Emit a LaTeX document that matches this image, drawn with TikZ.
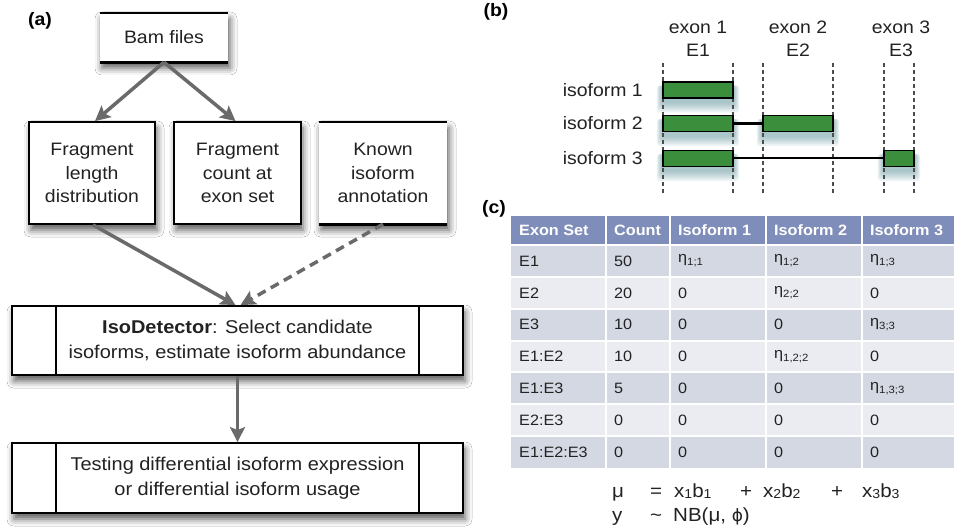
\documentclass[tikz,border=0pt]{standalone}
\usepackage{fontspec}
\setmainfont[FakeStretch=1.08]{Liberation Sans}
\newfontfamily\djv[FakeStretch=1.0]{DejaVu Sans}
\usetikzlibrary{arrows.meta,shadows.blur,backgrounds,calc}
\definecolor{arrowgray}{HTML}{6A6A6A}
\definecolor{bargreen}{HTML}{3B8E3B}
\definecolor{hdr}{HTML}{7F8DBA}
\definecolor{rowdark}{HTML}{D4D8E2}
\definecolor{rowlight}{HTML}{EAECF1}
\definecolor{glowc}{HTML}{3F8088}
\definecolor{txt}{HTML}{222222}
\newcommand{\et}[1]{η\raisebox{-3pt}{\fontsize{10.5}{10}\selectfont #1}}
\newcommand{\sbx}[1]{\raisebox{-1pt}{\fontsize{13}{13}\selectfont #1}}
\newcommand{\barglow}[1]{%
  \foreach \s in {1,...,6}{%
    \fill[glowc,opacity=0.09,rounded corners=3pt] ($(#1.north west)+(-0.9*\s,4)$) rectangle ($(#1.south east)+(0.9*\s,3+1.8*\s)$);}}
\begin{document}
\begin{tikzpicture}[x=1pt,y=-1pt,
  shad/.style={blur shadow={shadow xshift=2pt,shadow yshift=-6pt,shadow blur radius=7pt,shadow opacity=65}},
  box/.style={draw=black,line width=1.8pt,fill=white,inner sep=0pt,align=center,
    font=\fontsize{18}{23.5}\selectfont,text=txt,shad},
  databox/.style={fill=white,inner sep=0pt,align=center,
    font=\fontsize{18}{23.5}\selectfont,text=txt,shad},
  flow/.style={draw=arrowgray,line width=3.5pt,-{Stealth[length=15pt,width=15pt,inset=3pt]}},
  guide/.style={draw=black!70,line width=1.4pt,dash pattern=on 4pt off 3pt},
  isobar/.style={draw=black,line width=1.4pt,fill=bargreen,inner sep=0pt,minimum height=16pt},
  lbl/.style={font=\fontsize{18}{20}\selectfont,text=txt,inner sep=0pt},
  plabel/.style={font=\bfseries\fontsize{18}{20}\selectfont,inner sep=0pt},
  hcell/.style={font=\bfseries\fontsize{15}{17}\selectfont,text=white,anchor=west,inner sep=0pt},
  cell/.style={font=\fontsize{15}{17}\selectfont,text=txt,anchor=west,inner sep=0pt},
  fml/.style={font=\fontsize{19}{20}\selectfont,text=txt,anchor=base west,inner sep=0pt}]
\useasboundingbox (0,0) rectangle (954,529);

% ---------- panel (a)
\node[plabel] (pa) at (40,21) {(a)};
\node[databox,minimum width=128pt,minimum height=49pt] (bam) at (164,37.5) {Bam files};
\draw[line width=1.8pt] (bam.north west) -- (bam.north east);
\draw[line width=2.8pt] (bam.south west) -- (bam.south east);

\node[box,minimum width=126pt,minimum height=102pt] (fld) at (92,173) {Fragment\\length\\distribution};
\node[box,minimum width=127pt,minimum height=102pt] (fce) at (237.5,173) {Fragment\\count at\\exon set};
\node[databox,minimum width=128pt,minimum height=102pt] (kia) at (383,173) {Known\\isoform\\annotation};
\draw[line width=1.8pt] (kia.north west) -- (kia.north east);
\draw[line width=2.8pt] (kia.south west) -- (kia.south east);

\node[box,minimum width=451pt,minimum height=69pt,font=\fontsize{18.5}{25}\selectfont] (iso) at (237.5,340.5)
  {\textbf{IsoDetector}: Select candidate\\isoforms, estimate isoform abundance};
\draw[line width=1.8pt] ([xshift=45pt]iso.north west) -- ([xshift=45pt]iso.south west);
\draw[line width=1.8pt] ([xshift=-45pt]iso.north east) -- ([xshift=-45pt]iso.south east);

\node[box,minimum width=451pt,minimum height=70pt,font=\fontsize{18.5}{25}\selectfont] (test) at (237.5,478)
  {Testing differential isoform expression\\or differential isoform usage};
\draw[line width=1.8pt] ([xshift=45pt]test.north west) -- ([xshift=45pt]test.south west);
\draw[line width=1.8pt] ([xshift=-45pt]test.north east) -- ([xshift=-45pt]test.south east);

\draw[flow] (bam.south) -- ([xshift=3pt]fld.north);
\draw[flow] (bam.south) -- ([xshift=-2pt]fce.north);
\draw[flow] ([xshift=1pt]fld.south) -- ([xshift=-2pt]iso.north);
\draw[flow,dash pattern=on 9pt off 6pt] (kia.south) -- ([xshift=3pt]iso.north);
\draw[flow] (iso.south) -- (test.north);

% ---------- panel (b)
\node[plabel] (pb) at (496,12) {(b)};
\node[lbl] (ex1) at (698,27) {exon 1};
\node[lbl] (e1) at (698,50) {E1};
\node[lbl] (ex2) at (798,27) {exon 2};
\node[lbl] (e2) at (798,50) {E2};
\node[lbl] (ex3) at (901,27) {exon 3};
\node[lbl] (e3) at (901,50) {E3};

\foreach \x in {663,733,763,833,884,914} \draw[guide] (\x,63) -- (\x,193);

\node[lbl,anchor=east] (i1) at (643,90) {isoform 1};
\node[lbl,anchor=east] (i2) at (643,123.5) {isoform 2};
\node[lbl,anchor=east] (i3) at (643,158.5) {isoform 3};

\node[isobar,minimum width=70pt] (b11) at (698,90) {};
\node[isobar,minimum width=70pt] (b21) at (698,123.5) {};
\node[isobar,minimum width=70pt] (b22) at (798,123.5) {};
\node[isobar,minimum width=70pt] (b31) at (698,158.5) {};
\node[isobar,minimum width=30pt] (b33) at (899,158.5) {};
\draw[line width=3pt] (b21.east) -- (b22.west);
\draw[line width=2pt] (b31.east) -- (b33.west);
\begin{scope}[on background layer]
  \fill[white] (0,0) rectangle (954,529);
  \barglow{b11}\barglow{b21}\barglow{b22}\barglow{b31}\barglow{b33}
\end{scope}

% ---------- panel (c)
\node[plabel] (pc) at (494,209) {(c)};
\fill[hdr] (511,216) rectangle (954,245);
\foreach \r in {0,...,6}{
  \pgfmathtruncatemacro{\odd}{mod(\r,2)}
  \ifnum\odd=0 \def\rc{rowdark}\else\def\rc{rowlight}\fi
  \fill[\rc] (511,245+31.86*\r) rectangle (954,245+31.86*\r+31.86);
}
\foreach \x in {606,670,766,862} \draw[white,line width=2pt] (\x,216) -- (\x,468);
\foreach \r in {0,...,6} \draw[white,line width=2pt] (511,245+31.86*\r) -- (954,245+31.86*\r);

\node[hcell] (h1) at (519,230.5) {Exon Set};
\node[hcell] (h2) at (614,230.5) {Count};
\node[hcell] (h3) at (678,230.5) {Isoform 1};
\node[hcell] (h4) at (774,230.5) {Isoform 2};
\node[hcell] (h5) at (870,230.5) {Isoform 3};

\foreach \a/\b/\c/\d/\e [count=\r from 0] in {
   E1/50/{\et{1;1}}/{\et{1;2}}/{\et{1;3}},
   E2/20/0/{\et{2;2}}/0,
   E3/10/0/0/{\et{3;3}},
   E1:E2/10/0/{\et{1,2;2}}/0,
   E1:E3/5/0/0/{\et{1,3;3}},
   E2:E3/0/0/0/0,
   E1:E2:E3/0/0/0/0}{
  \node[cell] (c\r a) at (519,261+31.86*\r) {\a};
  \node[cell] (c\r b) at (614,261+31.86*\r) {\b};
  \node[cell] (c\r c) at (678,261+31.86*\r) {\c};
  \node[cell] (c\r d) at (774,261+31.86*\r) {\d};
  \node[cell] (c\r e) at (870,261+31.86*\r) {\e};
}

\node[fml] (mu) at (612,497) {μ};
\node[fml] (eq) at (650,497) {=};
\node[fml] (t1) at (674,497) {x\sbx{1}b\sbx{1}};
\node[fml] (p1) at (740,497) {+};
\node[fml] (t2) at (763,497) {x\sbx{2}b\sbx{2}};
\node[fml] (p2) at (831,497) {+};
\node[fml] (t3) at (862,497) {x\sbx{3}b\sbx{3}};
\node[fml] (yv) at (612,521) {y};
\node[fml] (tl) at (650,521) {\textasciitilde};
\node[fml] (nb) at (673,521) {NB(μ, {\djv\fontsize{17}{20}\selectfont ϕ})};
\end{tikzpicture}
\end{document}
